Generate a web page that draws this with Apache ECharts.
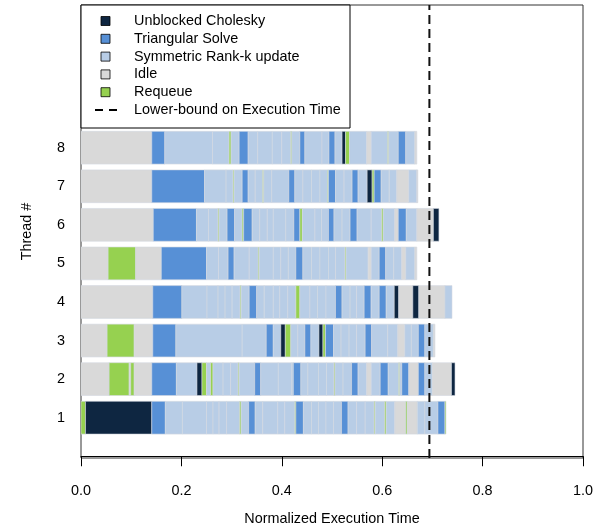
<!DOCTYPE html>
<html>
<head>
<meta charset="utf-8">
<script src="https://cdn.jsdelivr.net/npm/echarts@6/dist/echarts.min.js"></script>
<style>
  html, body { margin: 0; padding: 0; background: #fff; }
  #chart { width: 600px; height: 532px; }
</style>
</head>
<body>
<div id="chart"></div>
<script>
// Task kinds (code -> legend name)
const kindCodes = ['C', 'T', 'S', 'I', 'R'];
const kindNames = ['Unblocked Cholesky', 'Triangular Solve', 'Symmetric Rank-k update', 'Idle', 'Requeue'];
const kindColors = ['#0e2641', '#5790d6', '#b8cde6', '#d9d9d9', '#96d150'];
const lowerBoundName = 'Lower-bound on Execution Time';

const threadLabels = [1, 2, 3, 4, 5, 6, 7, 8];
const xTicks = [0, 0.2, 0.4, 0.6, 0.8, 1.0];
const lowerBound = 0.694;

// Per-thread timeline: [start, end, kind]
const thread1 = [
  [0, .009, 'R'], [.009, .141, 'C'], [.141, .168, 'T'], [.168, .202, 'S'], [.202, .250, 'S'],
  [.250, .263, 'S'], [.263, .275, 'S'], [.275, .290, 'S'], [.290, .316, 'S'], [.316, .319, 'R'],
  [.319, .334, 'S'], [.334, .347, 'T'], [.347, .362, 'S'], [.362, .392, 'S'], [.392, .406, 'S'],
  [.406, .426, 'S'], [.426, .428, 'R'], [.428, .443, 'T'], [.443, .459, 'S'], [.459, .473, 'S'],
  [.473, .488, 'S'], [.488, .503, 'S'], [.503, .519, 'S'], [.519, .532, 'T'], [.532, .549, 'S'],
  [.549, .566, 'S'], [.566, .584, 'S'], [.584, .586, 'R'], [.586, .605, 'S'], [.605, .608, 'R'],
  [.608, .625, 'S'], [.625, .647, 'I'], [.647, .650, 'R'], [.650, .670, 'I'], [.670, .685, 'S'],
  [.685, .711, 'S'], [.711, .725, 'T'], [.725, .727, 'R']
];
const thread2 = [
  [0, .056, 'I'], [.056, .096, 'R'], [.096, .099, 'I'], [.099, .106, 'R'], [.106, .141, 'I'],
  [.141, .190, 'T'], [.190, .231, 'S'], [.231, .241, 'C'], [.241, .250, 'R'], [.250, .258, 'S'],
  [.258, .263, 'R'], [.263, .283, 'S'], [.283, .298, 'S'], [.298, .313, 'S'], [.313, .315, 'R'],
  [.315, .346, 'S'], [.346, .358, 'T'], [.358, .393, 'S'], [.393, .420, 'S'], [.420, .423, 'S'],
  [.423, .438, 'T'], [.438, .452, 'S'], [.452, .473, 'S'], [.473, .489, 'S'], [.489, .504, 'S'],
  [.504, .506, 'R'], [.506, .522, 'S'], [.522, .539, 'S'], [.539, .552, 'T'], [.552, .569, 'S'],
  [.569, .578, 'I'], [.578, .596, 'S'], [.596, .612, 'T'], [.612, .633, 'S'], [.633, .635, 'R'],
  [.635, .639, 'S'], [.639, .653, 'T'], [.653, .672, 'I'], [.672, .685, 'T'], [.685, .700, 'S'],
  [.700, .738, 'I'], [.738, .745, 'C']
];
const thread3 = [
  [0, .052, 'I'], [.052, .106, 'R'], [.106, .143, 'I'], [.143, .189, 'T'], [.189, .321, 'S'],
  [.321, .369, 'S'], [.369, .383, 'T'], [.383, .398, 'S'], [.398, .407, 'C'], [.407, .418, 'R'],
  [.418, .432, 'S'], [.432, .446, 'S'], [.446, .458, 'T'], [.458, .474, 'S'], [.474, .482, 'C'],
  [.482, .487, 'R'], [.487, .503, 'T'], [.503, .518, 'S'], [.518, .534, 'S'], [.534, .549, 'S'],
  [.549, .566, 'S'], [.566, .579, 'T'], [.579, .611, 'S'], [.611, .631, 'S'], [.631, .645, 'I'],
  [.645, .658, 'S'], [.658, .672, 'S'], [.672, .685, 'T'], [.685, .702, 'S'], [.702, .705, 'I']
];
const thread4 = [
  [0, .143, 'I'], [.143, .201, 'T'], [.201, .251, 'S'], [.251, .273, 'S'], [.273, .287, 'S'],
  [.287, .301, 'S'], [.301, .317, 'S'], [.317, .319, 'R'], [.319, .335, 'S'], [.335, .350, 'T'],
  [.350, .365, 'S'], [.365, .383, 'S'], [.383, .396, 'S'], [.396, .412, 'S'], [.412, .428, 'S'],
  [.428, .436, 'R'], [.436, .456, 'S'], [.456, .471, 'S'], [.471, .488, 'S'], [.488, .507, 'S'],
  [.507, .520, 'T'], [.520, .536, 'S'], [.536, .549, 'S'], [.549, .564, 'S'], [.564, .578, 'T'],
  [.578, .594, 'S'], [.594, .608, 'T'], [.608, .624, 'S'], [.624, .633, 'C'], [.633, .661, 'I'],
  [.661, .673, 'C'], [.673, .725, 'I'], [.725, .739, 'S']
];
const thread5 = [
  [0, .054, 'I'], [.054, .109, 'R'], [.109, .160, 'I'], [.160, .250, 'T'], [.250, .274, 'S'],
  [.274, .293, 'S'], [.293, .305, 'T'], [.305, .335, 'S'], [.335, .353, 'S'], [.353, .355, 'R'],
  [.355, .383, 'S'], [.383, .398, 'S'], [.398, .413, 'S'], [.413, .428, 'S'], [.428, .442, 'T'],
  [.442, .459, 'S'], [.459, .476, 'S'], [.476, .493, 'S'], [.493, .507, 'S'], [.507, .526, 'S'],
  [.526, .528, 'R'], [.528, .572, 'S'], [.572, .578, 'I'], [.578, .594, 'S'], [.594, .607, 'T'],
  [.607, .623, 'S'], [.623, .639, 'S'], [.639, .647, 'I'], [.647, .665, 'S'], [.665, .669, 'I']
];
const thread6 = [
  [0, .144, 'I'], [.144, .230, 'T'], [.230, .254, 'S'], [.254, .273, 'S'], [.273, .275, 'R'],
  [.275, .291, 'S'], [.291, .306, 'T'], [.306, .321, 'S'], [.321, .324, 'R'], [.324, .341, 'T'],
  [.341, .356, 'S'], [.356, .371, 'S'], [.371, .383, 'S'], [.383, .408, 'S'], [.408, .424, 'S'],
  [.424, .436, 'T'], [.436, .441, 'R'], [.441, .466, 'S'], [.466, .479, 'S'], [.479, .493, 'S'],
  [.493, .504, 'T'], [.504, .520, 'S'], [.520, .536, 'S'], [.536, .550, 'T'], [.550, .578, 'S'],
  [.578, .599, 'S'], [.599, .602, 'R'], [.602, .625, 'S'], [.625, .632, 'I'], [.632, .648, 'T'],
  [.648, .669, 'S'], [.669, .702, 'I'], [.702, .713, 'C']
];
const thread7 = [
  [0, .141, 'I'], [.141, .246, 'T'], [.246, .289, 'S'], [.289, .303, 'S'], [.303, .305, 'R'],
  [.305, .321, 'S'], [.321, .333, 'T'], [.333, .347, 'S'], [.347, .362, 'S'], [.362, .364, 'R'],
  [.364, .380, 'S'], [.380, .414, 'S'], [.414, .426, 'T'], [.426, .442, 'S'], [.442, .459, 'S'],
  [.459, .476, 'S'], [.476, .491, 'S'], [.491, .493, 'R'], [.493, .507, 'T'], [.507, .524, 'S'],
  [.524, .540, 'S'], [.540, .552, 'T'], [.552, .570, 'S'], [.570, .580, 'C'], [.580, .584, 'R'],
  [.584, .598, 'T'], [.598, .614, 'S'], [.614, .629, 'S'], [.629, .653, 'I'], [.653, .669, 'S'],
  [.669, .671, 'I']
];
const thread8 = [
  [0, .141, 'I'], [.141, .167, 'T'], [.167, .262, 'S'], [.262, .295, 'S'], [.295, .299, 'R'],
  [.299, .315, 'S'], [.315, .333, 'T'], [.333, .352, 'S'], [.352, .381, 'S'], [.381, .400, 'S'],
  [.400, .418, 'S'], [.418, .420, 'R'], [.420, .436, 'S'], [.436, .446, 'T'], [.446, .480, 'S'],
  [.480, .494, 'S'], [.494, .506, 'T'], [.506, .520, 'S'], [.520, .527, 'C'], [.527, .535, 'R'],
  [.535, .569, 'S'], [.569, .578, 'I'], [.578, .611, 'S'], [.611, .613, 'R'], [.613, .632, 'S'],
  [.632, .647, 'T'], [.647, .665, 'S'], [.665, .669, 'I']
];

const threadData = [thread1, thread2, thread3, thread4, thread5, thread6, thread7, thread8];
const barHeight = 0.85;

// Flatten into [thread, start, end, kindIndex]
const segments = [];
threadData.forEach((segs, i) => {
  segs.forEach(([s, e, k]) => {
    segments.push([threadLabels[i], s, e, kindCodes.indexOf(k)]);
  });
});

function renderSegment(params, api) {
  const t = api.value(0);
  const p0 = api.coord([api.value(1), t]);
  const p1 = api.coord([api.value(2), t]);
  const h = api.size([0, barHeight])[1];
  return {
    type: 'rect',
    shape: { x: p0[0], y: p0[1] - h / 2, width: p1[0] - p0[0], height: h },
    style: { fill: kindColors[api.value(3)], stroke: '#d3d9e0', lineWidth: 0.6 }
  };
}

// Legend drawn as graphics inside the plot's top-left corner
const legendX = 81, legendY = 5, legendW = 269, legendH = 123;
const legendGraphics = [{
  type: 'rect', shape: { x: legendX, y: legendY, width: legendW, height: legendH },
  style: { fill: '#fff', stroke: '#000', lineWidth: 1 }, z: 100
}];
const rowY0 = 21, rowStep = 17.8;
kindNames.forEach((name, i) => {
  const cy = rowY0 + i * rowStep;
  legendGraphics.push({
    type: 'rect', shape: { x: 101, y: cy - 4.5, width: 9, height: 9 },
    style: { fill: kindColors[i], stroke: '#000', lineWidth: 0.8 }, z: 101
  });
  legendGraphics.push({
    type: 'text', x: 134, y: cy,
    style: { text: name, fill: '#000', font: '14.4px "Liberation Sans", Arial, sans-serif', verticalAlign: 'middle' }, z: 101
  });
});
{
  const cy = rowY0 + kindNames.length * rowStep;
  legendGraphics.push({
    type: 'line', shape: { x1: 95, y1: cy, x2: 119, y2: cy },
    style: { stroke: '#000', lineWidth: 2, lineDash: [8, 6] }, z: 101
  });
  legendGraphics.push({
    type: 'text', x: 134, y: cy,
    style: { text: lowerBoundName, fill: '#000', font: '14.4px "Liberation Sans", Arial, sans-serif', verticalAlign: 'middle' }, z: 101
  });
}

const font = '"Liberation Sans", Arial, sans-serif';
const chart = echarts.init(document.getElementById('chart'), null, { renderer: 'canvas' });
chart.setOption({
  animation: false,
  backgroundColor: '#fff',
  grid: { left: 81, right: 17, top: 5, bottom: 74, show: true, borderColor: '#333', borderWidth: 1, backgroundColor: 'transparent' },
  xAxis: {
    type: 'value', min: 0, max: 1, interval: 0.2,
    name: 'Normalized Execution Time', nameLocation: 'middle', nameGap: 54,
    nameTextStyle: { fontFamily: font, fontSize: 14.4, color: '#000' },
    axisLine: { show: true, lineStyle: { color: '#000', width: 1 } },
    axisTick: { show: true, inside: false, length: 10, lineStyle: { color: '#000' } },
    axisLabel: {
      margin: 26, fontFamily: font, fontSize: 14.4, color: '#000',
      customValues: xTicks, formatter: v => v.toFixed(1)
    },
    splitLine: { show: false }
  },
  yAxis: {
    type: 'value', min: -0.045, max: 11.70,
    name: 'Thread #', nameLocation: 'middle', nameGap: 47, nameRotate: 90,
    nameTextStyle: { fontFamily: font, fontSize: 14.4, color: '#000' },
    axisLine: { show: false },
    axisTick: { show: false },
    axisLabel: { margin: 16, fontFamily: font, fontSize: 14.4, color: '#000', customValues: threadLabels },
    splitLine: { show: false }
  },
  series: [
    {
      type: 'custom',
      renderItem: renderSegment,
      encode: { x: [1, 2], y: 0 },
      data: segments,
      clip: true,
      z: 2
    },
    {
      type: 'line',
      data: [[lowerBound, -0.045], [lowerBound, 11.70]],
      symbol: 'none',
      lineStyle: { color: '#111', width: 2, type: [9, 5] },
      z: 3,
      silent: true
    }
  ],
  graphic: legendGraphics
});
</script>
</body>
</html>
